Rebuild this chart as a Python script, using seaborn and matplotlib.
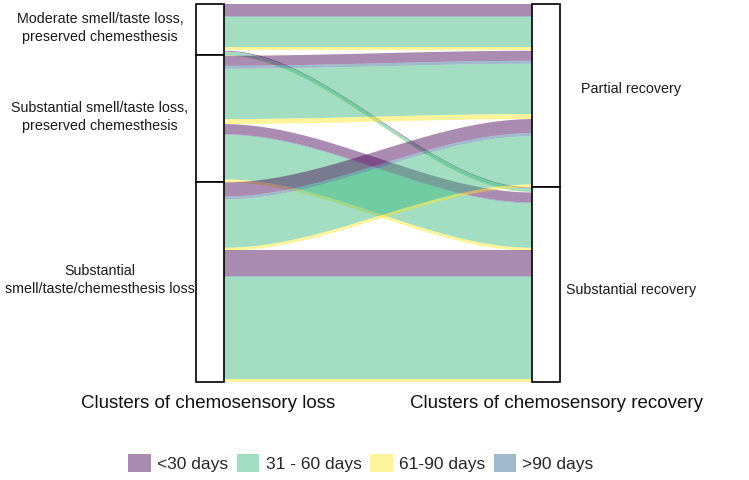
import numpy as np
import pandas as pd
import matplotlib.pyplot as plt
import matplotlib.transforms as mtransforms
from matplotlib.patches import Rectangle, Patch
import seaborn as sns

# --- data (approximate patient counts) ---
loss_clusters = ["Moderate smell/taste loss,\npreserved chemesthesis",
                 "Substantial smell/taste loss,\npreserved chemesthesis",
                 "Substantial\nsmell/taste/chemesthesis loss"]
recovery_clusters = ["Partial recovery", "Substantial recovery"]
duration_labels = ["<30 days", "31 - 60 days", "61-90 days", ">90 days"]
duration_colors = ["#440154", "#35B779", "#FDE725", "#31688E"]
stack_order = [0, 3, 1, 2]   # order of the colours inside each flow

# counts by duration (<30, 31-60, 61-90, >90)
moderate_to_partial = [12, 30, 3, 1]
moderate_to_substantial = [1, 3.5, 0.5, 0]
smell_to_partial = [10, 50, 5, 3]
smell_to_substantial = [10, 44, 3, 1]
all_to_partial = [14, 48, 3, 3]
all_to_substantial = [26, 101, 3, 1]

flow_counts = {
    (0, 0): moderate_to_partial, (0, 1): moderate_to_substantial,
    (1, 0): smell_to_partial, (1, 1): smell_to_substantial,
    (2, 0): all_to_partial, (2, 1): all_to_substantial,
}

rows = []
for (li, ri), counts in flow_counts.items():
    for di in stack_order:
        rows.append({"loss": li, "recovery": ri, "duration": di, "n": counts[di]})
df = pd.DataFrame(rows)

# stack lodes on the left axis (loss -> recovery -> duration) and right axis (recovery -> loss -> duration)
df["order_d"] = df["duration"].map({d: i for i, d in enumerate(stack_order)})
left = df.sort_values(["loss", "recovery", "order_d"])
df.loc[left.index, "yl0"] = left["n"].cumsum() - left["n"]
right = df.sort_values(["recovery", "loss", "order_d"])
df.loc[right.index, "yr0"] = right["n"].cumsum() - right["n"]
df["yl1"] = df["yl0"] + df["n"]
df["yr1"] = df["yr0"] + df["n"]
total = df["n"].sum()

sns.set_theme(style="white")
plt.rcParams["font.family"] = ["Liberation Sans", "DejaVu Sans"]

fig = plt.figure(figsize=(7.49, 4.80), dpi=100)
ax = fig.add_axes([196 / 749, 1 - 382 / 480, 364 / 749, 378 / 480])

w = 28 / 336  # stratum width relative to the axis spacing
xl, xr = 1 + w / 2, 2 - w / 2
t = np.linspace(0, 1, 200)
s = t * t * (3 - 2 * t)
xs = xl + (xr - xl) * t

for _, r in df.iterrows():
    if r["n"] <= 0:
        continue
    top = r["yl0"] + (r["yr0"] - r["yl0"]) * s
    bot = r["yl1"] + (r["yr1"] - r["yl1"]) * s
    c = duration_colors[int(r["duration"])]
    ax.fill_between(xs, top, bot, facecolor=c, alpha=0.45, linewidth=0)

# strata boxes
loss_tot = df.groupby("loss")["n"].sum().reindex(range(len(loss_clusters)))
rec_tot = df.groupby("recovery")["n"].sum().reindex(range(len(recovery_clusters)))
blend = mtransforms.blended_transform_factory(fig.transFigure, ax.transData)

y0 = 0
for i, h in enumerate(loss_tot):
    ax.add_patch(Rectangle((1 - w / 2, y0), w, h, facecolor="white", edgecolor="black",
                           linewidth=1.2, zorder=5, clip_on=False))
    ax.text(100 / 749, y0 + h / 2 - 2, loss_clusters[i], transform=blend, ha="center",
            va="center", fontsize=10.3, color="#1a1a1a", linespacing=1.35)
    y0 += h

y0 = 0
for i, h in enumerate(rec_tot):
    ax.text(631 / 749, y0 + h / 2 + (-6 if i == 0 else 5), recovery_clusters[i],
            transform=blend, ha="center", va="center", fontsize=10.3, color="#1a1a1a")
    ax.add_patch(Rectangle((2 - w / 2, y0), w, h, facecolor="white", edgecolor="black",
                           linewidth=1.2, zorder=5, clip_on=False))
    y0 += h

ax.set_xlim(1 - w / 2, 2 + w / 2)
ax.set_ylim(total, 0)
ax.axis("off")

fig.text(208 / 749, 1 - 404 / 480, "Clusters of chemosensory loss", ha="center",
         va="center", fontsize=13.5, color="#111111")
fig.text(556 / 749, 1 - 404 / 480, "Clusters of chemosensory recovery", ha="center",
         va="center", fontsize=13.5, color="#111111")

handles = [Patch(facecolor=c, alpha=0.45, edgecolor="none") for c in duration_colors]
fig.legend(handles, duration_labels, loc="center", bbox_to_anchor=(361 / 749, 1 - 463 / 480),
           ncol=4, frameon=False, fontsize=12.5, handlelength=1.3, handleheight=1.3,
           handletextpad=0.35, columnspacing=0.5)

fig.savefig("out.png", dpi=100, facecolor="white")
